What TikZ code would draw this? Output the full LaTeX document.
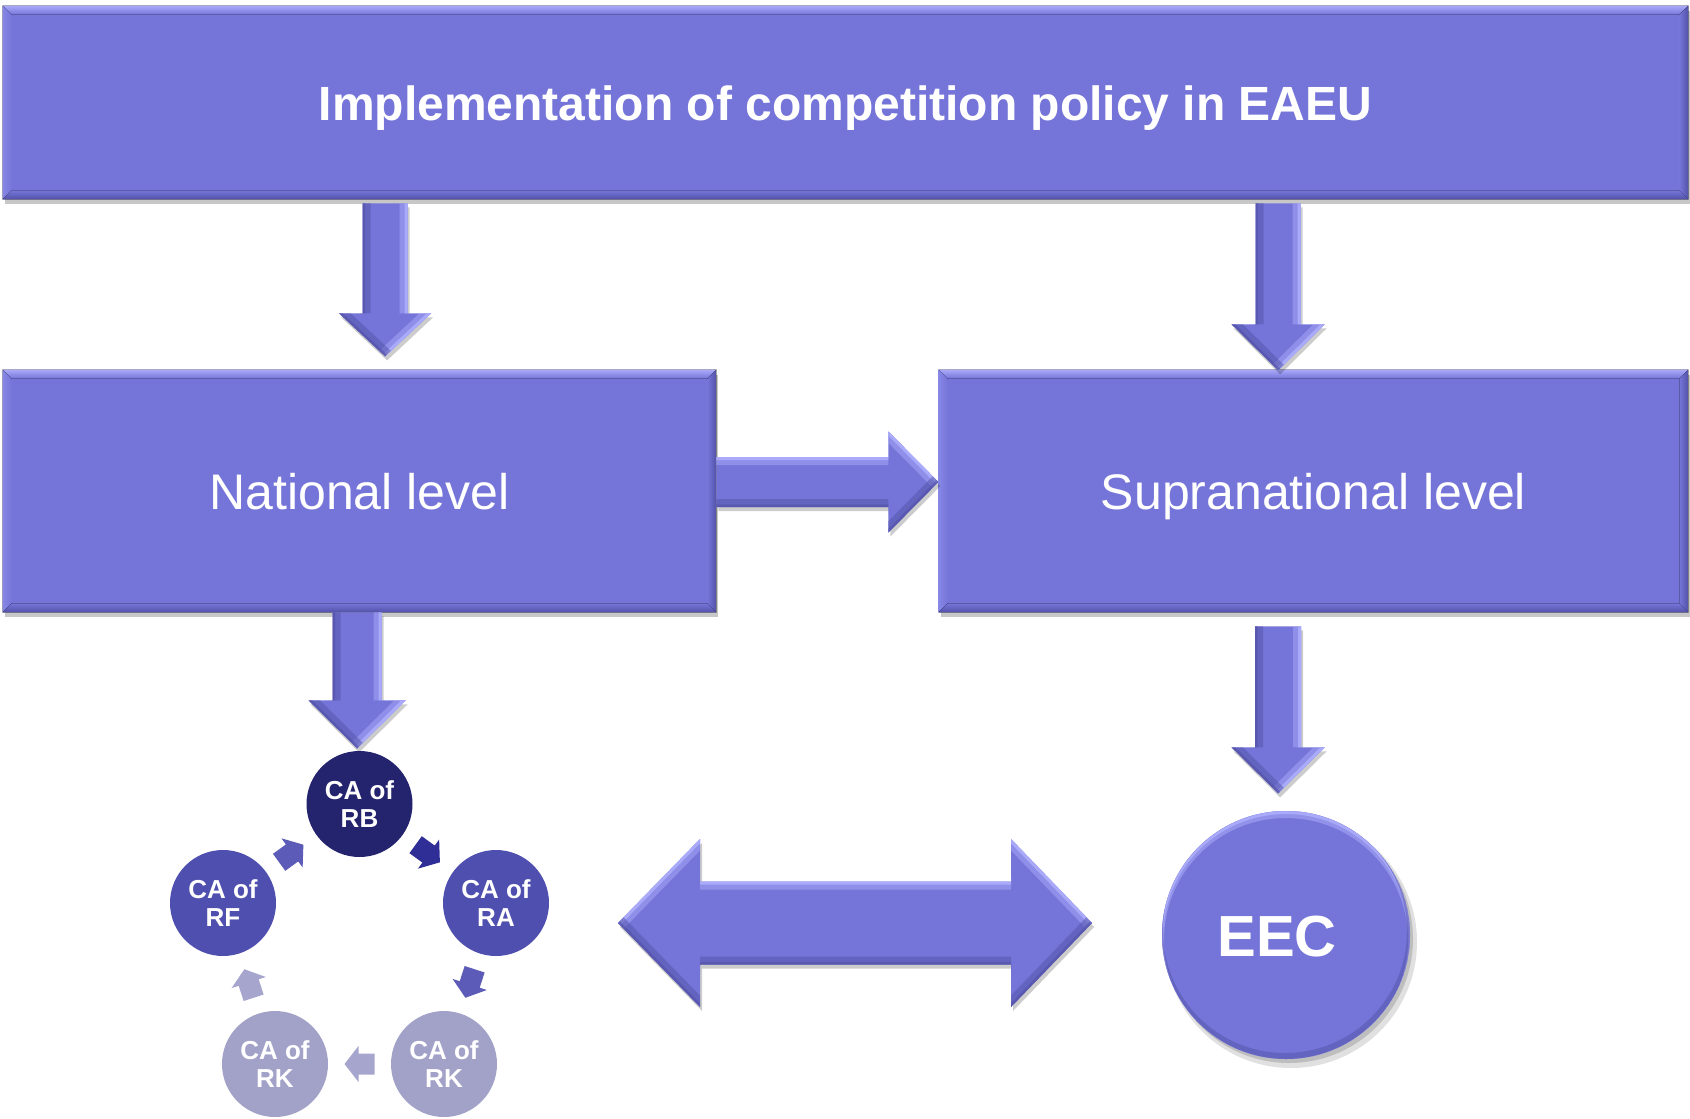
\documentclass[tikz,border=0pt]{standalone}
\usepackage{fontspec}
\setmainfont{Liberation Sans}
\usetikzlibrary{calc}

\definecolor{boxfill}{RGB}{117,117,217}
\definecolor{boxlight}{RGB}{170,170,250}
\definecolor{boxlightB}{RGB}{135,135,230}
\definecolor{boxdark}{RGB}{82,82,168}
\definecolor{rbfill}{RGB}{36,35,110}
\definecolor{rffill}{RGB}{79,79,175}
\definecolor{rkfill}{RGB}{162,162,201}
\definecolor{arrowdark}{RGB}{46,46,150}
\definecolor{arrowmid}{RGB}{92,92,184}
\definecolor{arrowpale}{RGB}{165,165,205}

\tikzset{
  panel/.style={rectangle, fill=boxfill, inner sep=0pt, text=white,
    preaction={fill=black, opacity=.22, transform canvas={xshift=1pt, yshift=-2.5pt}}},
  agency/.style={circle, minimum size=53pt, inner sep=0pt, text=white, align=center,
    font=\bfseries\fontsize{13}{14}\selectfont},
  softshadow/.style={preaction={fill=black, opacity=.2, transform canvas={xshift=1pt, yshift=-2pt}}},
}

% bevelled edges of a rectangular panel
\newcommand{\panelbevel}[1]{%
  \fill[top color=boxlight, bottom color=boxfill] (#1.north west) -- (#1.north east) -- ($(#1.north east)+(-9,9)$) -- ($(#1.north west)+(9,9)$) -- cycle;
  \fill[left color=boxlightB, right color=boxfill] (#1.north west) -- ($(#1.north west)+(9,9)$) -- ($(#1.south west)+(9,-9)$) -- (#1.south west) -- cycle;
  \fill[left color=boxfill, right color=boxdark] (#1.north east) -- ($(#1.north east)+(-9,9)$) -- ($(#1.south east)+(-9,-9)$) -- (#1.south east) -- cycle;
  \fill[top color=boxfill, bottom color=boxdark] (#1.south west) -- (#1.south east) -- ($(#1.south east)+(-9,-9)$) -- ($(#1.south west)+(9,-9)$) -- cycle;
}

% bevelled block arrow: tail point, direction, length, shaft half width,
% head half width, head length, fill colour
\newcommand{\blockarrow}[7]{%
  \begin{scope}[shift={(#1)}, rotate=#2, x=0.5pt, y=0.5pt]
    \pgfmathsetmacro\arrowback{#3-#6}
    \fill[#7, softshadow] (0,-#4) -- (\arrowback,-#4) -- (\arrowback,-#5) -- (#3,0) -- (\arrowback,#5) -- (\arrowback,#4) -- (0,#4) -- cycle;
    \begin{scope}
      \clip (0,-#4) -- (\arrowback,-#4) -- (\arrowback,-#5) -- (#3,0) -- (\arrowback,#5) -- (\arrowback,#4) -- (0,#4) -- cycle;
      \draw[boxlight, line width=8pt, opacity=.5] (0,#4) -- (\arrowback,#4) (\arrowback,#5) -- (#3,0);
      \draw[boxlight, line width=3pt] (0,#4) -- (\arrowback,#4) (\arrowback,#5) -- (#3,0);
      \draw[boxdark, line width=8pt, opacity=.5] (0,-#4) -- (\arrowback,-#4) (\arrowback,-#5) -- (#3,0);
      \draw[boxdark, line width=2.5pt, opacity=.6] (0,-#4) -- (\arrowback,-#4) (\arrowback,-#5) -- (#3,0);
    \end{scope}
  \end{scope}}

% small arrow between two agencies of the cycle
\newcommand{\cyclearrow}[4]{%
  \begin{scope}[shift={($(#1)!.5!(#2)$)}, rotate=#3, x=0.5pt, y=0.5pt]
    \fill[#4] (-15,-10.5) -- (1,-10.5) -- (1,-18) -- (15,0) -- (1,18) -- (1,10.5) -- (-15,10.5) -- cycle;
  \end{scope}}

\begin{document}
\begin{tikzpicture}[x=0.5pt, y=-0.5pt]
\useasboundingbox (0,0) rectangle (1690,1118);
\fill[white] (0,0) rectangle (1690,1118);

% panels
\node[panel, minimum width=842.5pt, minimum height=96.5pt, text height=22pt, text depth=3.5pt,
  font=\bfseries\fontsize{24}{28}\selectfont] (banner) at (845.5,102.5)
  {Implementation of competition policy in EAEU};
\node[panel, minimum width=356.5pt, minimum height=121pt, text height=22pt, text depth=4pt,
  font=\fontsize{25}{30}\selectfont] (natl) at (359.5,491) {National level};
\node[panel, minimum width=374.5pt, minimum height=121pt, text height=22pt, text depth=4pt,
  font=\fontsize{25}{30}\selectfont] (supra) at (1313.5,491) {Supranational level};
\panelbevel{banner}
\panelbevel{natl}
\panelbevel{supra}

% agencies of the member states
\node[agency, fill=rbfill] (rb) at (359.5,804) {CA of\\RB};
\node[agency, fill=rffill] (rf) at (223,903) {CA of\\RF};
\node[agency, fill=rffill] (ra) at (496,903) {CA of\\RA};
\node[agency, fill=rkfill] (rkb) at (444,1064) {CA of\\RK};
\node[agency, fill=rkfill] (rka) at (275,1064) {CA of\\RK};

\cyclearrow{rf}{rb}{36}{arrowmid}
\cyclearrow{rb}{ra}{-36}{arrowdark}
\cyclearrow{ra}{rkb}{-108}{arrowmid}
\cyclearrow{rkb}{rka}{180}{arrowpale}
\cyclearrow{rka}{rf}{108}{arrowpale}

% EEC disc with a light upper rim and a darker lower rim
\coordinate (eecc) at (1286,935);
\fill[black, opacity=.12] ($(eecc)+(5,7)$) circle (63pt);
\fill[black, opacity=.15] ($(eecc)+(3,4)$) circle (62pt);
\fill[boxfill] (eecc) circle (62pt);
\begin{scope}
  \clip (eecc) circle (62pt);
  \fill[boxlight, opacity=.55, even odd rule] (eecc) circle (62pt) ($(eecc)+(0,5)$) circle (61pt);
  \fill[boxlight, even odd rule] (eecc) circle (62pt) ($(eecc)+(0,2)$) circle (61.5pt);
  \fill[boxdark, opacity=.5, even odd rule] (eecc) circle (62pt) ($(eecc)+(-1,-4)$) circle (61pt);
\end{scope}
\node[circle, minimum size=124pt, inner sep=0pt, text=white, xshift=-4.5pt,
  text height=24pt, text depth=3pt, font=\bfseries\fontsize{29}{34}\selectfont] (eec) at (eecc) {EEC};

% connectors between levels
\coordinate (t1) at ($(banner.south west)+(382.5,4)$);
\coordinate (t2) at ($(banner.south west)+(1275.5,4)$);
\coordinate (t3) at ($(natl.south west)+(354.5,0)$);
\coordinate (t4) at ($(supra.south west)+(339.5,14)$);
\coordinate (t5) at ($(natl.east)+(0,-9)$);
\blockarrow{t1}{-90}{153}{22.5}{46}{43}{boxfill}
\blockarrow{t2}{-90}{167}{22.5}{46.5}{46}{boxfill}
\blockarrow{t3}{-90}{136}{24.5}{48.5}{48}{boxfill}
\blockarrow{t4}{-90}{167}{23}{46.5}{46}{boxfill}
\blockarrow{t5}{0}{222}{25}{50.5}{50}{boxfill}

% two-way arrow between the national agencies and the EEC
\coordinate (dl) at (618,923);
\coordinate (dr) at (1092,923);
\fill[boxfill, softshadow] (dl) -- ($(dl)+(82,-84)$) -- ($(dl)+(82,-41.5)$) -- ($(dr)+(-81,-41.5)$) -- ($(dr)+(-81,-84)$) -- (dr)
  -- ($(dr)+(-81,84)$) -- ($(dr)+(-81,41.5)$) -- ($(dl)+(82,41.5)$) -- ($(dl)+(82,84)$) -- cycle;
\begin{scope}
  \clip (dl) -- ($(dl)+(82,-84)$) -- ($(dl)+(82,-41.5)$) -- ($(dr)+(-81,-41.5)$) -- ($(dr)+(-81,-84)$) -- (dr)
    -- ($(dr)+(-81,84)$) -- ($(dr)+(-81,41.5)$) -- ($(dl)+(82,41.5)$) -- ($(dl)+(82,84)$) -- cycle;
  \draw[boxlight, line width=8pt, opacity=.5] (dl) -- ($(dl)+(82,-84)$) ($(dl)+(82,-41.5)$) -- ($(dr)+(-81,-41.5)$) ($(dr)+(-81,-84)$) -- (dr);
  \draw[boxlight, line width=3pt] (dl) -- ($(dl)+(82,-84)$) ($(dl)+(82,-41.5)$) -- ($(dr)+(-81,-41.5)$) ($(dr)+(-81,-84)$) -- (dr);
  \draw[boxdark, line width=8pt, opacity=.5] (dl) -- ($(dl)+(82,84)$) ($(dl)+(82,41.5)$) -- ($(dr)+(-81,41.5)$) ($(dr)+(-81,84)$) -- (dr);
  \draw[boxdark, line width=2.5pt, opacity=.6] (dl) -- ($(dl)+(82,84)$) ($(dl)+(82,41.5)$) -- ($(dr)+(-81,41.5)$) ($(dr)+(-81,84)$) -- (dr);
\end{scope}
\end{tikzpicture}
\end{document}
